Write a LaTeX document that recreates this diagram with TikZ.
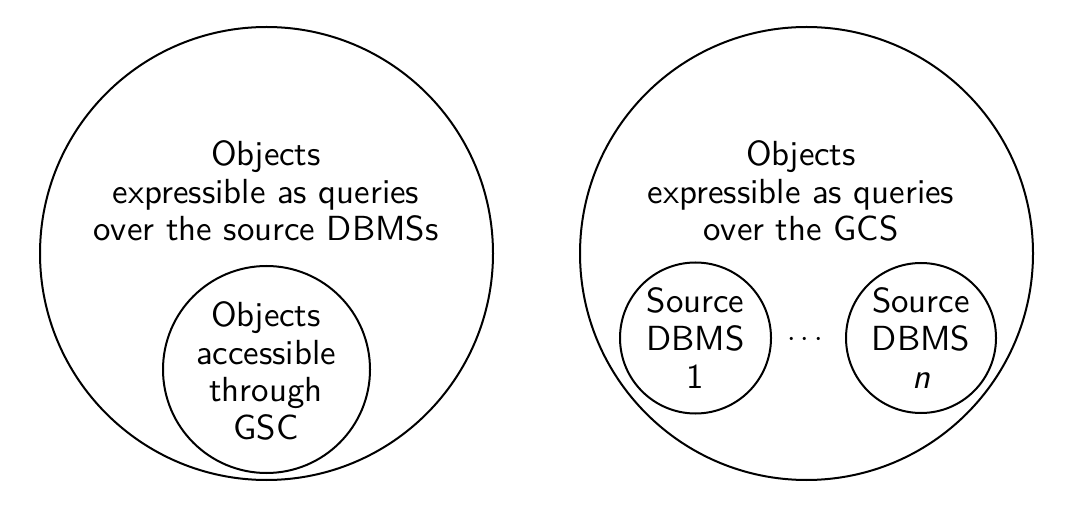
\documentclass[tikz,border=0pt]{standalone}
\begin{document}
\begin{tikzpicture}[x=0.3pt,y=-0.3pt,
  ring/.style={draw,circle,line width=0.6pt,inner sep=0pt},
  lbl/.style={align=center,font=\sffamily\fontsize{10.45pt}{11.3pt}\selectfont,inner sep=0pt}]
\useasboundingbox (0,0) rectangle (1072,517);
% left
\node[ring,minimum size=453*0.3pt] (L) at (266.5,253.5) {};
\node[lbl] (Lt) at (266,191) {Objects\\expressible as queries\\over the source DBMSs};
\node[ring,minimum size=207*0.3pt] (G) at (266.5,369.5) {};
\node[lbl] (Gt) at (266,371) {Objects\\accessible\\through\\GSC};
% right
\node[ring,minimum size=453*0.3pt] (R) at (806.5,253.5) {};
\node[lbl] (Rt) at (801,191) {Objects\\expressible as queries\\over the GCS};
\node[ring,minimum size=151*0.3pt] (S1) at (695.5,338) {};
\node[lbl] (S1t) at (695.5,338) {Source\\DBMS\\1};
\node[ring,minimum size=150*0.3pt] (Sn) at (921,338) {};
\node[lbl] (Snt) at (921,338) {Source\\DBMS\\\textit{n}};
\node[lbl,font=\sffamily\fontsize{9.5pt}{11pt}\selectfont] (dots) at (805,340) {$\cdots$};
\end{tikzpicture}
\end{document}
